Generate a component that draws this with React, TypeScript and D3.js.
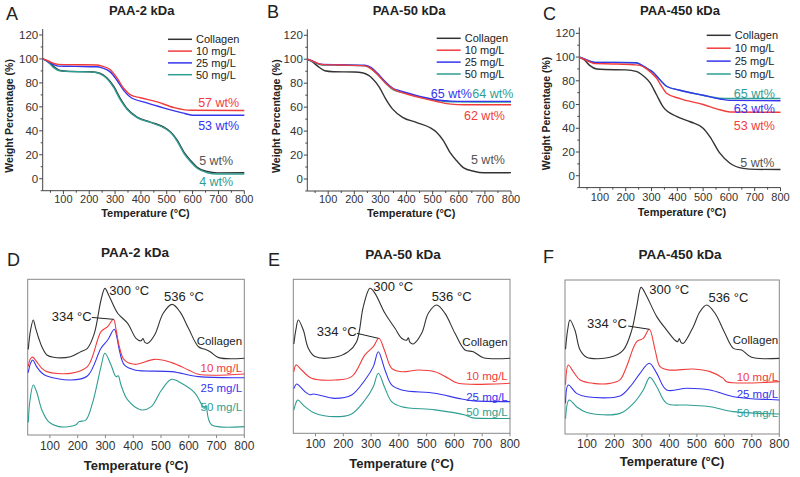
import React from 'react';
import * as d3 from 'd3';

type P = [number, number];

// ---------- categories / labels ----------
const seriesNames = ['Collagen', '10 mg/L', '25 mg/L', '50 mg/L'];
const panelTitles = ['PAA-2 kDa', 'PAA-50 kDa', 'PAA-450 kDa'];
const tgaLetters = ['A', 'B', 'C'];
const dtgLetters = ['D', 'E', 'F'];
const tgaYTicks = [0, 20, 40, 60, 80, 100, 120];
const tgaYMinor = [-10, 10, 30, 50, 70, 90, 110];
const xTicks = [100, 200, 300, 400, 500, 600, 700, 800];
const xMinor = [50, 150, 250, 350, 450, 550, 650, 750];

// ---------- TGA (weight %) ----------
const tgaA_collagen: P[] = [[20,100],[40,97.8],[61,94],[87,90.4],[120,89.6],[200,89.3],[230,88.7],[255,86.5],[269,84],[295,77],[320,67],[346,58.6],[385,51.5],[437,47.3],[489,43],[515,39],[541,32],[567,22],[593,15],[619,9.3],[657,6],[696,4.9],[800,5]];
const tgaA_10: P[] = [[20,100],[40,98.5],[60,96.5],[80,95.5],[150,95.2],[230,95],[250,94],[282,91],[308,84],[333,75.5],[360,70],[398,67.6],[463,64.2],[528,59.4],[593,57.2],[800,57]];
const tgaA_25: P[] = [[20,100],[40,98],[60,95.5],[80,94],[150,93.8],[230,93.5],[250,92.5],[282,89],[308,82],[333,74],[360,68],[420,63.5],[490,59],[560,55],[600,53],[800,53]];
const tgaA_50: P[] = [[20,100],[40,97.5],[61,93],[87,90],[120,89.5],[200,89.2],[230,88.5],[255,86],[269,83.5],[295,76],[320,66],[346,58],[385,51],[437,47],[489,42.5],[515,38.5],[541,31],[567,21],[593,14],[619,8.5],[657,5],[696,4],[800,4]];

const tgaB_collagen: P[] = [[20,100],[40,97.8],[61,94],[87,90.4],[120,89.6],[200,89.3],[230,88.7],[255,86.5],[269,84],[295,77],[320,67],[346,58.6],[385,51.5],[437,47.3],[489,43],[515,39],[541,32],[567,22],[593,15],[619,9.3],[657,6.5],[696,5.2],[800,5.3]];
const tgaB_10: P[] = [[20,100],[40,98.5],[60,96.5],[80,95.5],[150,95.2],[240,94.5],[265,92],[290,87],[320,80],[350,75],[370,73],[400,71],[460,67.5],[520,64.5],[570,62.5],[620,62],[800,62]];
const tgaB_25: P[] = [[20,100],[40,98.6],[60,96.6],[80,95.6],[150,95.4],[240,95],[265,93],[290,88],[320,81],[350,75.5],[370,74],[400,72],[460,68.5],[520,66],[570,65],[620,64.8],[800,64.8]];
const tgaB_50: P[] = [[20,100],[40,98.3],[60,96.2],[80,95.2],[150,95],[240,94.5],[265,92],[290,87],[320,80],[350,74.5],[370,73],[400,71.5],[460,68],[520,65.5],[570,64.5],[800,64.2]];

const tgaC_collagen: P[] = [[20,100],[40,97.5],[60,93],[87,90],[120,89.5],[200,89.2],[240,88],[269,84],[294,78.5],[320,68],[345,58],[397,50],[450,45.5],[500,40],[526,33],[565,19],[604,10.5],[655,6.2],[707,5.4],[800,5.2]];
const tgaC_10: P[] = [[20,100],[40,98],[60,96],[80,94.5],[150,94.2],[230,93.5],[255,93],[281,90],[300,86.5],[320,82],[340,75],[358,69.5],[410,65],[500,60],[565,55.6],[604,53.7],[800,53.5]];
const tgaC_25: P[] = [[20,100],[40,98.5],[60,96.5],[80,95.5],[150,95.5],[240,95.2],[260,93.5],[282,90.5],[307,87],[332,81],[358,75.4],[410,72],[500,67.8],[565,64.7],[604,63.5],[800,63.2]];
const tgaC_50: P[] = [[20,100],[40,98.5],[60,96.5],[80,95.5],[150,95.5],[240,95.2],[260,93.5],[282,90.5],[307,87],[332,81],[358,75.4],[410,72],[500,67.8],[565,65.3],[604,65.1],[800,65.1]];

// ---------- DTG (arbitrary units, stacked) ----------
const dtgD_collagen: P[] = [[22,55],[30,67],[40,73.9],[48,69],[60,62],[71,56.7],[89,51.4],[113,49.9],[174,50.3],[211,53.5],[235,55.7],[260,65.3],[284,86.7],[298,94.2],[314,88.9],[344,78.2],[380,71.7],[410,62.1],[428,60.5],[435,62],[442,59.5],[452,58.9],[477,64.2],[508,78.2],[540,83.9],[568,79.2],[599,68.5],[635,56.7],[659,55],[677,53.5],[708,49.7],[800,49.3]];
const dtgD_10: P[] = [[22,44],[30,49],[38,50],[52,47.1],[70,43],[89,40.7],[174,39.6],[235,43.9],[284,66.4],[308,69.6],[329,74.3],[338,68],[350,56.7],[368,48.2],[405,45.4],[477,48.6],[538,46.5],[599,41.8],[635,39],[800,39.2]];
const dtgD_25: P[] = [[22,40],[30,46],[38,48.2],[52,43.9],[70,40],[89,37.9],[174,35.3],[235,37.9],[284,55.7],[308,61],[332,67.9],[342,62],[350,54.6],[368,45],[405,41.8],[538,40.7],[635,37.5],[800,36.8]];
const dtgD_50: P[] = [[22,8],[28,22],[40,32.1],[52,27.8],[71,16.1],[95,8.6],[132,5.4],[193,6.4],[205,8.6],[229,9.6],[253,20.3],[284,43.9],[298,52.5],[320,45],[338,37.5],[346,38],[356,32.1],[380,22.5],[429,16.1],[465,18.2],[502,28.9],[538,35.8],[574,33.2],[623,26.8],[645,20],[655,17],[662,19],[670,11],[683,6.4],[800,5.4]];

const dtgE_collagen: P[] = [[22,58],[30,68],[38,73.6],[56,67.1],[74,55.2],[98,49.8],[170,49.4],[218,53],[248,59.5],[272,82.3],[296,94.2],[314,90.9],[350,77.9],[386,68.2],[410,61.7],[428,60.5],[434,62],[440,59],[452,58],[482,64.9],[506,77.9],[536,83.3],[566,77.9],[602,64.9],[638,54.1],[668,53],[704,49.1],[800,48.7]];
const dtgE_10: P[] = [[22,40],[30,44.4],[50,41.1],[86,35.7],[170,34.6],[230,36.8],[278,50.9],[308,56.3],[328,61.7],[350,53],[374,42.2],[410,40],[470,41.1],[530,40],[578,35.7],[614,32.5],[800,32.5]];
const dtgE_25: P[] = [[22,29],[32,32],[46,30],[62,27],[80,25],[92,25.5],[170,22.7],[230,24.9],[278,34.6],[308,43.3],[326,53],[350,41.1],[374,31.4],[410,28.1],[530,26],[614,22.7],[662,21.2],[800,20.6]];
const dtgE_50: P[] = [[22,15],[30,20],[36,21.6],[62,17.3],[98,13],[170,10.8],[230,12.6],[278,21.6],[308,30.3],[326,39],[350,29.2],[374,20.6],[410,17.3],[530,15.2],[638,11.9],[662,10.2],[800,9.7]];

const dtgF_collagen: P[] = [[22,55],[30,68],[38,74],[56,67.5],[75,54.5],[99,49.8],[184,49.8],[232,54.5],[263,67.5],[281,82.7],[297,95.2],[315,90.3],[354,76.2],[390,67.5],[420,61],[430,60],[436,62],[442,59.5],[451,58.9],[487,69.7],[511,79.4],[536,83.8],[566,78.4],[602,65.4],[633,55.6],[663,54.5],[699,49.8],[800,49.1]];
const dtgF_10: P[] = [[22,32],[32,44.8],[50,40.5],[75,35.1],[123,32.9],[184,32.9],[220,35.1],[244,43.7],[281,60],[305,62.1],[327,68],[348,54.5],[366,43.7],[397,41.6],[487,42.2],[548,40.5],[596,36.1],[608,34],[800,34]];
const dtgF_25: P[] = [[22,20],[32,31.8],[62,26.4],[99,24.2],[220,24.7],[257,30.7],[293,39.4],[327,45.9],[354,39.4],[390,28.6],[463,29.7],[548,28.6],[633,24.2],[800,22.1]];
const dtgF_50: P[] = [[22,10],[35,22.1],[62,17.7],[99,13.9],[220,13.4],[269,19.9],[305,28.6],[329,36.8],[354,30.7],[390,19.9],[463,18.8],[548,17.7],[633,14.5],[800,13]];

const tgaSeries = [
  [tgaA_collagen, tgaA_10, tgaA_25, tgaA_50],
  [tgaB_collagen, tgaB_10, tgaB_25, tgaB_50],
  [tgaC_collagen, tgaC_10, tgaC_25, tgaC_50],
];
const dtgSeries = [
  [dtgD_collagen, dtgD_10, dtgD_25, dtgD_50],
  [dtgE_collagen, dtgE_10, dtgE_25, dtgE_50],
  [dtgF_collagen, dtgF_10, dtgF_25, dtgF_50],
];

// residue labels: [text, series index, T, value, anchor]
const residueLabels: [string, number, number, number, string][][] = [
  [['57 wt%', 1, 780, 63.4, 'end'], ['53 wt%', 2, 780, 44.8, 'end'], ['5 wt%', 0, 757, 15.6, 'end'], ['4 wt%', 3, 757, -2.5, 'end']],
  [['65 wt%', 2, 493, 71.5, 'start'], ['64 wt%', 3, 652, 71.5, 'start'], ['62 wt%', 1, 777, 53.4, 'end'], ['5 wt%', 0, 777, 15.9, 'end']],
  [['65 wt%', 3, 778, 69.4, 'end'], ['63 wt%', 2, 778, 56.8, 'end'], ['53 wt%', 1, 778, 42.7, 'end'], ['5 wt%', 0, 776, 11, 'end']],
];

const peakLabels = ['300 °C', '536 °C', '334 °C'];

// ---------- styling / layout ----------
const COLORS = ['#333333', '#f23c3c', '#3535ee', '#2f9e92'];
const LABEL_COLORS = ['#555555', '#f23c3c', '#3535ee', '#2f9e92'];
const FONT = 'Liberation Sans, Arial, Helvetica, sans-serif';

const tgaLayout = [
  { x0: 42.7, x1: 244.3, yB: 190.7, yT: 29, letterX: 6, letterY: 20, titleX: 141.7, yTitleX: 13, xTitleY: 217, tickY: 203, legX: 168, legY: 39.3, legDy: 11.8 },
  { x0: 307.3, x1: 511, yB: 191, yT: 29.3, letterX: 267, letterY: 18, titleX: 409, yTitleX: 280, xTitleY: 217, tickY: 203, legX: 436.7, legY: 38.3, legDy: 11.9 },
  { x0: 579.3, x1: 780.5, yB: 187.6, yT: 27.4, letterX: 543, letterY: 20, titleX: 680, yTitleX: 550, xTitleY: 216, tickY: 200.5, legX: 706.7, legY: 35.3, legDy: 12.9 },
];

const dtgLayout = [
  { x0: 27.7, x1: 244.3, yB: 435, yT: 279.3, letterX: 7, letterY: 265.5, titleX: 135, titleY: 256.5, tickY: 449.5, xTitleY: 470,
    p300: [314, 92.7], p536: [511, 88.8], p334: [250, 76.4], lead: [251, 75.5, 329, 74.3], colY: 60.6, labY: [42.8, 30, 17.8], labX: 792 },
  { x0: 293.3, x1: 510, yB: 433.3, yT: 279.3, letterX: 268, letterY: 265.5, titleX: 403, titleY: 259, tickY: 447.5, xTitleY: 468,
    p300: [308, 95.2], p536: [518, 88.7], p334: [248, 66], lead: [249, 64.9, 326, 61.7], colY: 59.5, labY: [37.2, 23.8, 14], labX: 792 },
  { x0: 565, x1: 779.3, yB: 434, yT: 280, letterX: 543, letterY: 263, titleX: 680, titleY: 259, tickY: 447.5, xTitleY: 466,
    p300: [327, 94], p536: [542, 88.8], p334: [245, 71.9], lead: [250, 70.1, 327, 68], colY: 61, labY: [36.8, 25.8, 13.4], labX: 796 },
];

function TgaPanel({ idx }: { idx: number }) {
  const L = tgaLayout[idx];
  const x = d3.scaleLinear().domain([20, 800]).range([L.x0, L.x1]);
  const y = d3.scaleLinear().domain([-10, 125]).range([L.yB, L.yT]);
  const line = d3.line<P>().x(d => x(d[0])).y(d => y(d[1])).curve(d3.curveMonotoneX);
  const series = tgaSeries[idx];
  const order = [0, 3, 2, 1];
  return (
    <g fontFamily={FONT}>
      <text x={L.letterX} y={L.letterY} fontSize={18} fill="#222">{tgaLetters[idx]}</text>
      <text x={L.titleX} y={15} fontSize={13} fontWeight="bold" textAnchor="middle" fill="#222">{panelTitles[idx]}</text>
      <line x1={L.x0} x2={L.x0} y1={L.yB} y2={L.yT} stroke="#444" strokeWidth={1} />
      <line x1={L.x0} x2={L.x1} y1={L.yB} y2={L.yB} stroke="#444" strokeWidth={1} />
      {tgaYTicks.map(t => (
        <g key={'yt' + t}>
          <line x1={L.x0 - 3.5} x2={L.x0} y1={y(t)} y2={y(t)} stroke="#444" />
          <text x={L.x0 - 4.5} y={y(t) + 4} fontSize={11.5} textAnchor="end" fill="#333">{t}</text>
        </g>
      ))}
      {tgaYMinor.map(t => (
        <line key={'ym' + t} x1={L.x0 - 2} x2={L.x0} y1={y(t)} y2={y(t)} stroke="#444" />
      ))}
      {xTicks.map(t => (
        <g key={'xt' + t}>
          <line x1={x(t)} x2={x(t)} y1={L.yB} y2={L.yB + 3.5} stroke="#444" />
          <text x={x(t)} y={L.tickY} fontSize={11} textAnchor="middle" fill="#333">{t}</text>
        </g>
      ))}
      {xMinor.map(t => (
        <line key={'xm' + t} x1={x(t)} x2={x(t)} y1={L.yB} y2={L.yB + 2} stroke="#444" />
      ))}
      <text transform={`translate(${L.yTitleX},${(L.yB + L.yT) / 2 + 6}) rotate(-90)`} fontSize={10.5} fontWeight="bold" textAnchor="middle" fill="#222">Weight Percentage (%)</text>
      <text x={(L.x0 + L.x1) / 2 + 2} y={L.xTitleY} fontSize={11} fontWeight="bold" textAnchor="middle" fill="#222">Temperature (°C)</text>
      {order.map(i => (
        <path key={'s' + i} d={line(series[i]) || ''} fill="none" stroke={COLORS[i]} strokeWidth={1.4} />
      ))}
      {seriesNames.map((n, i) => (
        <g key={'lg' + i}>
          <line x1={L.legX} x2={L.legX + 24} y1={L.legY + i * L.legDy} y2={L.legY + i * L.legDy} stroke={COLORS[i]} strokeWidth={1.5} />
          <text x={L.legX + 28} y={L.legY + i * L.legDy + 4} fontSize={11} fill="#222">{n}</text>
        </g>
      ))}
      {residueLabels[idx].map((r, k) => (
        <text key={'r' + k} x={x(r[2])} y={y(r[3]) + 4.5} fontSize={12.5} textAnchor={r[4] as any} fill={LABEL_COLORS[r[1]]}>{r[0]}</text>
      ))}
    </g>
  );
}

function DtgPanel({ idx }: { idx: number }) {
  const L = dtgLayout[idx];
  const x = d3.scaleLinear().domain([20, 800]).range([L.x0, L.x1]);
  const y = d3.scaleLinear().domain([0, 100]).range([L.yB, L.yT]);
  const line = d3.line<P>().x(d => x(d[0])).y(d => y(d[1])).curve(d3.curveCatmullRom.alpha(0.5));
  const series = dtgSeries[idx];
  return (
    <g fontFamily={FONT}>
      <text x={L.letterX} y={L.letterY} fontSize={18} fill="#222">{dtgLetters[idx]}</text>
      <text x={L.titleX} y={L.titleY} fontSize={13.5} fontWeight="bold" textAnchor="middle" fill="#222">{panelTitles[idx]}</text>
      <rect x={L.x0} y={L.yT} width={L.x1 - L.x0} height={L.yB - L.yT} fill="none" stroke="#888" strokeWidth={1} />
      {xTicks.map(t => (
        <g key={'xt' + t}>
          <line x1={x(t)} x2={x(t)} y1={L.yB} y2={L.yB + 3} stroke="#888" />
          <text x={x(t)} y={L.tickY} fontSize={12} textAnchor="middle" fill="#333">{t}</text>
        </g>
      ))}
      <text x={(L.x0 + L.x1) / 2} y={L.xTitleY} fontSize={13} fontWeight="bold" textAnchor="middle" fill="#222">Temperature (°C)</text>
      {[0, 3, 2, 1].map(i => (
        <path key={'s' + i} d={line(series[i]) || ''} fill="none" stroke={COLORS[i]} strokeWidth={1.1} />
      ))}
      <text x={x(L.p300[0])} y={y(L.p300[1]) + 4.5} fontSize={13} fill="#222">{peakLabels[0]}</text>
      <text x={x(L.p536[0])} y={y(L.p536[1]) + 4.5} fontSize={13} fill="#222">{peakLabels[1]}</text>
      <text x={x(L.p334[0])} y={y(L.p334[1]) + 4.5} fontSize={13} textAnchor="end" fill="#222">{peakLabels[2]}</text>
      <line x1={x(L.lead[0])} y1={y(L.lead[1])} x2={x(L.lead[2])} y2={y(L.lead[3])} stroke="#222" strokeWidth={1} />
      <text x={x(L.labX)} y={y(L.colY) + 4} fontSize={11.5} textAnchor="end" fill="#222">{seriesNames[0]}</text>
      {[1, 2, 3].map(i => (
        <text key={'l' + i} x={x(L.labX)} y={y(L.labY[i - 1]) + 4} fontSize={11.5} textAnchor="end" fill={COLORS[i]}>{seriesNames[i]}</text>
      ))}
    </g>
  );
}

export default function App() {
  return (
    <svg width={800} height={477} viewBox="0 0 800 477" style={{ position: 'absolute', left: 0, top: 0, background: '#fff' }}>
      <rect width={800} height={477} fill="#fff" />
      {[0, 1, 2].map(i => <TgaPanel key={'t' + i} idx={i} />)}
      {[0, 1, 2].map(i => <DtgPanel key={'d' + i} idx={i} />)}
    </svg>
  );
}
